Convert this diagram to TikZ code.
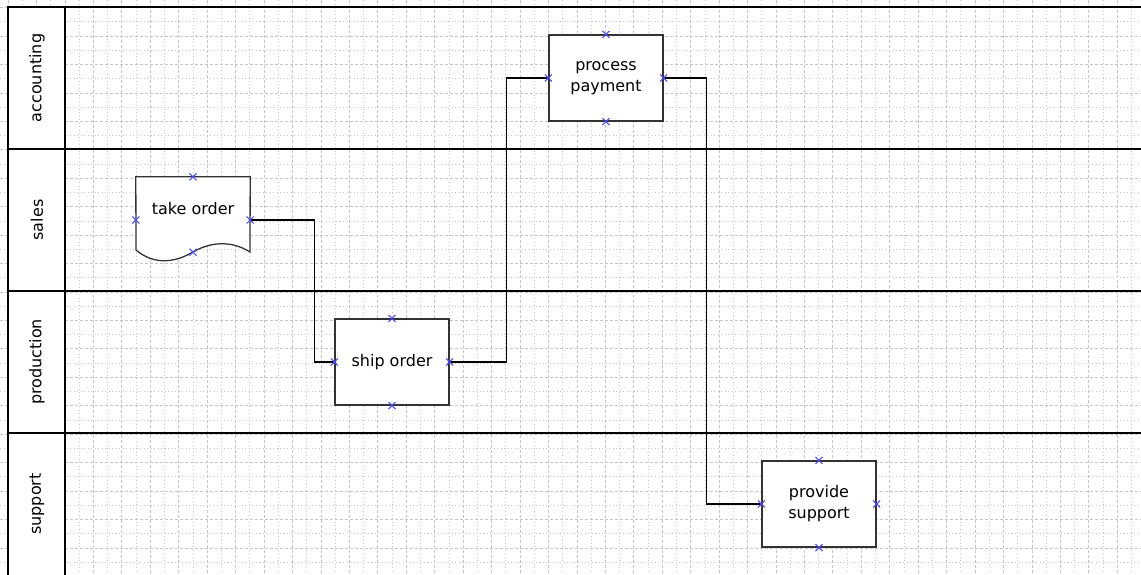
\documentclass[tikz,border=0pt]{standalone}
\usepackage{fontspec}
\setmainfont{DejaVu Sans}
\usetikzlibrary{shapes.misc}
\definecolor{portblue}{RGB}{72,72,255}
\definecolor{gridgray}{RGB}{198,198,198}
\newcommand{\diagfont}{\fontsize{16}{21}\selectfont}

\begin{document}
\begin{tikzpicture}[
    x=1pt, y=-1pt,
    every node/.style={font=\diagfont},
    lane/.style={line width=2pt},
    lanelabel/.style={rotate=90, inner sep=0pt},
    task/.style={draw=black!80, fill=white, line width=1.3pt, minimum width=114pt,
                 minimum height=86pt, align=center, inner sep=0pt},
    port/.style={cross out, draw=portblue, line width=1pt, minimum size=6pt, inner sep=0pt},
    flow/.style={line width=1.4pt},
    minorgrid/.style={gridgray, line width=0.8pt, dash pattern=on 1pt off 2.5pt},
    majorgrid/.style={gridgray, line width=0.8pt, dash pattern=on 3pt off 2pt}
]
\useasboundingbox (0,0) rectangle (1141,574);

% grid
\foreach \i in {-5,...,76} {
  \pgfmathsetmacro{\gx}{65+14.22*\i}
  \ifodd\i
    \draw[minorgrid] (\gx,0) -- (\gx,574);
  \else
    \draw[majorgrid] (\gx,0) -- (\gx,574);
  \fi
}
\foreach \j in {-1,...,40} {
  \pgfmathsetmacro{\gy}{7.6+14.22*\j}
  \ifodd\j
    \draw[minorgrid] (0,\gy) -- (1141,\gy);
  \else
    \draw[majorgrid] (0,\gy) -- (1141,\gy);
  \fi
}

% lanes
\fill[white] (8,7) rectangle (65,580);
\draw[lane] (8,580) -- (8,7) -- (1141,7);
\draw[lane] (65,7) -- (65,580);
\foreach \ly in {149,291,433}
  \draw[lane] (8,\ly) -- (1141,\ly);

\node[lanelabel] (accounting) at (37,78) {accounting};
\node[lanelabel] (sales) at (37,220) {sales};
\node[lanelabel] (production) at (37,362) {production};
\node[lanelabel] (support) at (37,504) {support};

% tasks
\node[minimum width=114pt, minimum height=86pt, inner sep=0pt] (take) at (193,220) {};
\draw[draw=black!80, fill=white, line width=1.3pt]
  (take.north west) -- (take.north east) -- (250,252)
  .. controls (231,240) and (210,242) .. (193,252)
  .. controls (176,262) and (155,266) .. (136,250) -- cycle;
\node (take-text) at ([yshift=11pt]take.center) {take order};

\node[task] (ship) at (392,362) {ship order};
\node[task] (pay) at (606,78) {process\\payment};
\node[task] (supp) at (819,504) {provide\\support};

% flows
\draw[flow] (take.east) -- ++(64,0) |- (ship.west);
\draw[flow] (ship.east) -- ++(57,0) |- (pay.west);
\draw[flow] (pay.east) -- ++(43,0) |- (supp.west);

% ports
\node[port] (take-north) at (take.north) {};
\node[port] (take-west) at (take.west) {};
\node[port] (take-east) at (take.east) {};
\node[port] (take-south) at ([yshift=11pt]take.south) {};
\foreach \n in {ship,pay,supp}
  \foreach \a in {north,south,east,west}
    \node[port] (\n-\a) at (\n.\a) {};
\end{tikzpicture}
\end{document}
